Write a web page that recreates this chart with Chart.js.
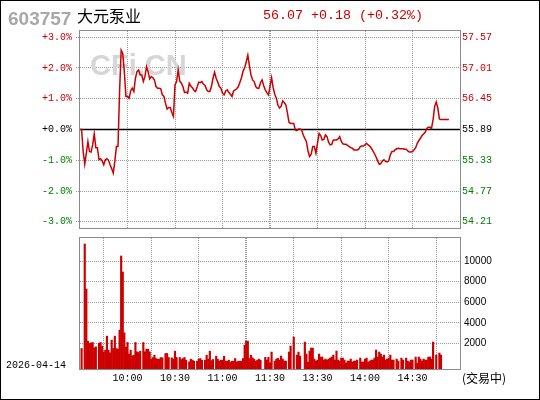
<!DOCTYPE html>
<html><head><meta charset="utf-8">
<script src="https://cdn.jsdelivr.net/npm/chart.js@4.4.1/dist/chart.umd.min.js"></script>
<style>
html,body{margin:0;padding:0;background:#fff;}
#wrap{position:relative;width:540px;height:400px;overflow:hidden;background:#fff;}
#wrap canvas{position:absolute;left:0;top:0;}
#frame{position:absolute;left:0;top:0;width:540px;height:400px;box-sizing:border-box;border:1px solid #000;pointer-events:none;}
</style></head><body>
<div id="wrap">
<canvas id="pc" width="540" height="400"></canvas>
<canvas id="vc" width="540" height="400"></canvas>
<div id="frame"></div>
</div>
<script>
// ---- texts ----
const stockCode = '603757';
const stockName = '大元泵业';
const quoteText = '56.07 +0.18 (+0.32%)';
const tradeDate = '2026-04-14';
const statusText = '(交易中)';
const watermark = 'CFi.CN';

// ---- axis definitions ----
const prevClose = 55.89;
const pctTicks = [-3, -2, -1, 0, 1, 2, 3];
const gridMinutes = [30, 60, 90, 120, 150, 180, 210];
const timeLabels = ['10:00', '10:30', '11:00', '11:30', '13:30', '14:00', '14:30'];
const volTicks = [2000, 4000, 6000, 8000, 10000];

// ---- price per minute (index = minutes since 9:30, lunch break removed) ----
const prices = [
55.89,55.89,55.49,55.26,55.46,55.67,55.49,55.48,55.61,55.81,
55.56,55.56,55.34,55.36,55.32,55.25,55.34,55.36,55.33,55.25,
55.18,55.10,55.31,55.58,55.58,56.58,57.33,57.27,56.94,56.49,
56.49,56.46,56.59,56.64,56.58,56.82,56.94,56.97,56.88,56.88,
56.76,56.85,57.03,56.94,56.81,56.85,56.83,56.79,56.67,56.64,
56.64,56.63,56.52,56.49,56.37,56.26,56.29,56.29,56.20,56.13,
56.70,56.76,56.97,56.77,56.73,56.67,56.56,56.57,56.55,56.73,
56.68,56.65,56.60,56.58,56.66,56.75,56.74,56.76,56.71,56.69,
56.61,56.58,56.58,56.67,56.82,56.93,56.82,56.75,56.67,56.64,
56.55,56.52,56.59,56.61,56.56,56.53,56.49,56.59,56.61,56.63,
56.67,56.75,56.83,56.95,57.01,57.12,57.24,57.05,56.88,56.79,
56.76,56.67,56.64,56.64,56.74,56.79,56.69,56.61,56.56,56.52,
56.67,56.83,56.65,56.53,56.46,56.33,56.28,56.31,56.41,56.38,
56.34,56.19,56.02,56.00,56.00,56.00,55.88,55.87,55.90,55.90,
55.88,55.79,55.73,55.67,55.50,55.40,55.44,55.58,55.58,55.46,
55.64,55.82,55.78,55.70,55.71,55.79,55.76,55.66,55.61,55.62,
55.70,55.70,55.70,55.72,55.76,55.68,55.63,55.62,55.62,55.60,
55.58,55.56,55.55,55.52,55.52,55.52,55.53,55.58,55.59,55.59,
55.61,55.64,55.61,55.59,55.55,55.50,55.45,55.39,55.32,55.26,
55.27,55.32,55.34,55.31,55.30,55.32,55.43,55.49,55.49,55.52,
55.54,55.55,55.54,55.54,55.54,55.53,55.53,55.50,55.48,55.48,
55.49,55.52,55.56,55.64,55.69,55.73,55.78,55.81,55.84,55.91,
55.93,55.93,55.91,56.07,56.31,56.39,56.28,56.08,56.07,56.07,
56.07,56.07,56.07,56.07
];

// ---- volume bars: minute index and volume ----
const volMinutes = [
1,3,4,5,6,7,8,9,10,12,13,14,15,16,17,18,19,20,21,22,23,24,25,26,27,28,29,30,
31,32,33,34,35,36,37,38,40,41,42,43,44,45,46,47,48,49,50,51,52,54,55,56,58,59,
60,61,63,64,65,66,67,69,70,71,72,74,75,76,77,79,80,81,82,83,84,86,87,88,89,90,
91,92,93,94,95,96,97,98,99,100,101,102,103,104,105,106,107,108,109,110,111,112,113,114,
117,118,119,120,121,123,124,125,126,127,128,129,130,132,133,135,137,138,139,142,
143,144,145,146,147,148,149,150,151,152,153,154,155,156,157,158,159,160,161,162,
163,164,165,166,167,168,169,170,171,172,173,174,175,177,178,179,180,181,182,183,
184,185,186,187,188,189,190,191,192,193,194,195,196,197,198,200,201,203,204,206,
207,208,209,210,212,213,214,215,216,217,218,219,220,221,222,223,225,227,228
];
const volumes = [
1495,11668,7280,2210,1983,2048,2080,1560,1658,2015,2080,1723,1170,1333,2700,1333,1073,2308,1495,2700,1495,1430,3283,10498,8938,3023,1625,2080,
943,1333,780,845,2080,1170,1105,1235,2080,1170,1430,1430,1170,455,618,845,520,455,455,618,585,1008,1008,618,585,455,
1235,618,618,423,520,618,358,195,455,358,260,260,455,520,358,358,845,455,1235,325,423,748,455,260,358,358,
748,260,260,358,163,260,260,520,195,260,260,260,520,1820,2210,2210,520,845,585,455,260,358,455,358,
630,370,630,110,1150,273,468,533,370,760,468,273,273,1150,1735,2613,858,1150,760,2125,
955,175,1248,1540,1540,468,273,370,955,663,663,370,468,370,468,565,663,858,370,1248,
370,273,565,565,370,78,273,273,468,175,273,273,370,565,175,175,468,565,175,273,
370,370,565,1345,663,1150,955,663,858,370,468,565,858,370,370,468,273,565,370,565,
273,175,370,370,663,78,663,468,273,468,370,370,663,663,468,2125,858,1053,858
];
const volMin = -500, volMax = 12250;

// ---- styles ----
const RED = '#cc0000', GREEN = '#008000', GRID = '#9a9a9a', FRAME = '#8a8a8a';
const MONO = '"Liberation Mono", "DejaVu Sans Mono", monospace';

const frame = {
  id: 'frame',
  afterDraw(chart) {
    const {ctx, chartArea: a} = chart;
    ctx.save();
    ctx.strokeStyle = FRAME; ctx.lineWidth = 1;
    ctx.strokeRect(Math.round(a.left) - 0.5, Math.round(a.top) - 0.5,
      Math.round(a.right - a.left) + 1, Math.round(a.bottom - a.top) + 1);
    ctx.restore();
  }
};

const headerPlugin = {
  id: 'header',
  beforeDatasetsDraw(chart) {
    const {ctx} = chart;
    const ys = chart.scales.y, a = chart.chartArea;
    ctx.save();
    ctx.font = 'bold 29px "Liberation Sans", Arial, sans-serif';
    ctx.fillStyle = '#d6d6d6';
    ctx.textBaseline = 'alphabetic';
    ctx.fillText(watermark, 90, 75);
    const y0 = ys.getPixelForValue(0);
    ctx.strokeStyle = '#000'; ctx.lineWidth = 1.5;
    ctx.beginPath(); ctx.moveTo(a.left, y0); ctx.lineTo(a.right, y0); ctx.stroke();
    ctx.restore();
  },
  afterDraw(chart) {
    const {ctx} = chart;
    ctx.save();
    ctx.textBaseline = 'alphabetic';
    ctx.font = 'bold 19px "Liberation Sans", Arial, sans-serif';
    ctx.fillStyle = '#a8a8a8';
    ctx.fillText(stockCode, 8, 25);
    ctx.font = '16px "Noto Sans CJK SC", sans-serif';
    ctx.fillStyle = '#000';
    ctx.fillText(stockName, 77, 22);
    ctx.font = '13.33px ' + MONO;
    ctx.fillStyle = RED;
    ctx.fillText(quoteText, 263, 19);
    ctx.restore();
  }
};

const footerPlugin = {
  id: 'footer',
  afterDraw(chart) {
    const {ctx} = chart;
    ctx.save();
    ctx.textBaseline = 'alphabetic';
    ctx.fillStyle = '#000';
    ctx.font = '10px ' + MONO;
    ctx.fillText(tradeDate, 6, 368);
    ctx.font = '12px "Noto Sans CJK SC", sans-serif';
    ctx.fillText(statusText, 462, 383);
    ctx.restore();
  }
};

const signColor = v => v > 1e-9 ? RED : (v < -1e-9 ? GREEN : '#000');

new Chart(document.getElementById('pc'), {
  type: 'line',
  data: {
    datasets: [{
      data: prices.map((p, i) => ({x: i, y: p})),
      xAxisID: 'x', yAxisID: 'yP',
      borderColor: RED, borderWidth: 1.5, pointRadius: 0, tension: 0, fill: false
    }]
  },
  options: {
    responsive: false, animation: false, events: [],
    plugins: {legend: {display: false}, tooltip: {enabled: false}},
    layout: {padding: {left: 0, right: 0, top: 31, bottom: 172}},
    scales: {
      x: {
        type: 'linear', min: 0, max: 240,
        afterBuildTicks: s => { s.ticks = gridMinutes.map(v => ({value: v})); },
        afterFit: s => { s.height = 0; },
        ticks: {display: false},
        grid: {color: GRID, drawTicks: false, lineWidth: c => (c.tick && c.tick.value === 120) ? 2 : 1},
        border: {display: false, dash: [1, 1]}
      },
      y: {
        position: 'left', min: -3.2, max: 3.2,
        afterBuildTicks: s => { s.ticks = pctTicks.map(v => ({value: v})); },
        afterFit: s => { s.width = 80; },
        ticks: {
          font: {family: MONO, size: 10}, padding: 4,
          color: c => signColor(c.tick.value),
          callback: v => (v >= 0 ? '+' : '') + Number(v).toFixed(1) + '%'
        },
        grid: {
          color: c => (c.tick && c.tick.value === 0) ? 'rgba(0,0,0,0)' : GRID,
          tickColor: c => (c.tick && c.tick.value === 0) ? 'rgba(0,0,0,0)' : GRID,
          tickLength: 4, tickBorderDash: [1, 1]
        },
        border: {display: false, dash: [1, 1]}
      },
      yP: {
        position: 'right', min: prevClose * (1 - 0.032), max: prevClose * (1 + 0.032),
        afterBuildTicks: s => { s.ticks = pctTicks.map(k => ({value: prevClose * (1 + k / 100)})); },
        afterFit: s => { s.width = 80; },
        ticks: {
          font: {family: MONO, size: 10}, padding: 2,
          color: c => signColor(c.tick.value - prevClose),
          callback: v => Number(v).toFixed(2)
        },
        grid: {drawOnChartArea: false, drawTicks: false},
        border: {display: false}
      }
    }
  },
  plugins: [headerPlugin, frame]
});

new Chart(document.getElementById('vc'), {
  type: 'bar',
  data: {
    datasets: [{
      data: volMinutes.map((m, i) => ({x: m, y: volumes[i]})),
      backgroundColor: RED, barThickness: 1.5, base: volMin, borderWidth: 0
    }]
  },
  options: {
    responsive: false, animation: false, events: [],
    plugins: {legend: {display: false}, tooltip: {enabled: false}},
    layout: {padding: {left: 80, right: 0, top: 238, bottom: 11}},
    scales: {
      x: {
        type: 'linear', min: 0, max: 240, offset: false,
        afterBuildTicks: s => { s.ticks = gridMinutes.map(v => ({value: v})); },
        afterFit: s => { s.height = 20; },
        ticks: {
          font: {family: MONO, size: 10}, color: '#000', padding: 3,
          maxRotation: 0, autoSkip: false,
          callback: v => timeLabels[gridMinutes.indexOf(v)]
        },
        grid: {color: GRID, drawTicks: false, lineWidth: c => (c.tick && c.tick.value === 120) ? 2 : 1},
        border: {display: false, dash: [1, 1]}
      },
      y: {
        position: 'right', min: volMin, max: volMax,
        afterBuildTicks: s => { s.ticks = volTicks.map(v => ({value: v})); },
        afterFit: s => { s.width = 80; },
        ticks: {
          font: {family: '"Liberation Sans", Arial, sans-serif', size: 10}, color: '#000', padding: 4,
          callback: v => String(v)
        },
        grid: {color: GRID, drawTicks: false},
        border: {display: false, dash: [1, 1]}
      }
    }
  },
  plugins: [footerPlugin, frame]
});
</script>
</body></html>
